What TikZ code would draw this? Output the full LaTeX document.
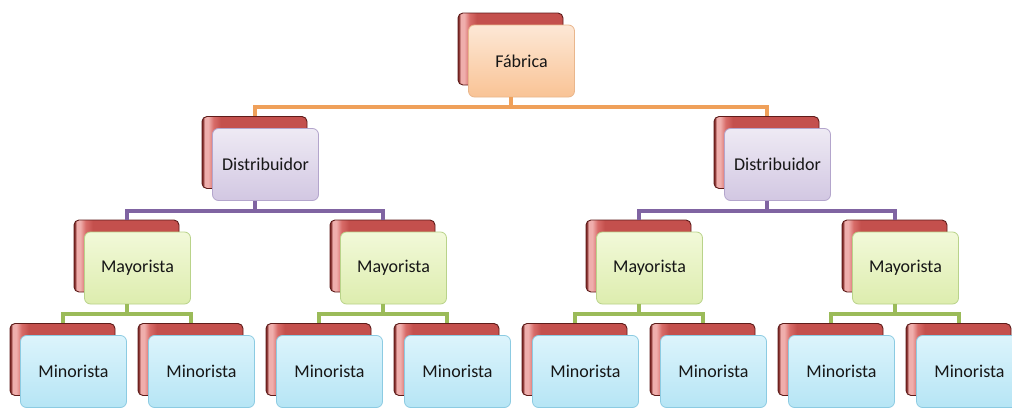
\documentclass[tikz,border=0pt]{standalone}
\usepackage{fontspec}
\setmainfont{Carlito}

% palette
\definecolor{redEdge}{HTML}{7A2422}
\definecolor{redLight}{HTML}{EFAEAC}
\definecolor{redMid}{HTML}{D86C69}
\definecolor{redBase}{HTML}{C4504D}
\definecolor{redOut}{HTML}{5E1C1A}
\definecolor{lnOrange}{HTML}{EFA05A}
\definecolor{lnPurple}{HTML}{8064A2}
\definecolor{lnGreen}{HTML}{9BBB59}
\definecolor{txt}{HTML}{161616}
\definecolor{peachTop}{HTML}{FDE8D6}
\definecolor{peachBot}{HTML}{F9C395}
\definecolor{peachLine}{HTML}{E9B68C}
\definecolor{lavTop}{HTML}{EEEAF4}
\definecolor{lavBot}{HTML}{D2C7E2}
\definecolor{lavLine}{HTML}{B3A5CC}
\definecolor{limeTop}{HTML}{F2F9D9}
\definecolor{limeBot}{HTML}{DDEDAE}
\definecolor{limeLine}{HTML}{B9D38A}
\definecolor{cyanTop}{HTML}{DCF4FC}
\definecolor{cyanBot}{HTML}{B6E5F5}
\definecolor{cyanLine}{HTML}{8CCBE2}

% glossy red plate: dark rim, pale stripe down the left, flat red body
% (TikZ maps a path onto the 25bp..75bp band of the shading)
\pgfdeclarehorizontalshading{redback}{100bp}{color(0bp)=(redEdge); color(25.3bp)=(redEdge); color(26.3bp)=(redLight); color(28bp)=(redLight); color(30.5bp)=(redMid); color(34bp)=(redBase); color(100bp)=(redBase)}

\tikzset{
  backbox/.style={rounded corners=5pt, draw=redOut, line width=0.9pt, shading=redback,
    minimum width=105pt, minimum height=72pt, inner sep=0pt},
  frontbox/.style={rounded corners=6pt, line width=0.8pt, minimum width=106pt,
    minimum height=72pt, inner sep=0pt, text=txt, font=\fontsize{18}{20}\selectfont},
  fabbox/.style={frontbox, draw=peachLine, top color=peachTop, bottom color=peachBot},
  disbox/.style={frontbox, draw=lavLine, top color=lavTop, bottom color=lavBot},
  maybox/.style={frontbox, draw=limeLine, top color=limeTop, bottom color=limeBot},
  minbox/.style={frontbox, draw=cyanLine, top color=cyanTop, bottom color=cyanBot},
  bar/.style={line width=4pt, #1},
}

% a red back plate with the labelled card laid over it
\newcommand{\cardpair}[4]{%
  \node[backbox] (#1B) at (#2) {};
  \node[#3] (#1) at ([shift={(11,12)}]#1B.center) {#4};
}

\begin{document}
\begin{tikzpicture}[x=1pt,y=-1pt]
\useasboundingbox (0,0) rectangle (1012,407);
\fill[white] (0,0) rectangle (1012,407);

% top level
\cardpair{fab}{510.5,49}{fabbox}{Fábrica}

% distributors
\cardpair{da}{254.5,152.5}{disbox}{Distribuidor}
\cardpair{db}{766.5,152.5}{disbox}{Distribuidor}

% wholesalers
\cardpair{ma}{126.5,256}{maybox}{Mayorista}
\cardpair{mb}{382.5,256}{maybox}{Mayorista}
\cardpair{mc}{638.5,256}{maybox}{Mayorista}
\cardpair{md}{894.5,256}{maybox}{Mayorista}

% retailers
\cardpair{na}{62.5,359.5}{minbox}{Minorista}
\cardpair{nb}{190.5,359.5}{minbox}{Minorista}
\cardpair{nc}{318.5,359.5}{minbox}{Minorista}
\cardpair{nd}{446.5,359.5}{minbox}{Minorista}
\cardpair{ne}{574.5,359.5}{minbox}{Minorista}
\cardpair{nf}{702.5,359.5}{minbox}{Minorista}
\cardpair{ng}{830.5,359.5}{minbox}{Minorista}
\cardpair{nh}{958.5,359.5}{minbox}{Minorista}

% connectors
\foreach \c in {da,db}
  \draw[bar=lnOrange] (fabB |- fab.south) -- ++(0,10) -| (\c B.north);
\foreach \p/\c in {da/ma,da/mb,db/mc,db/md}
  \draw[bar=lnPurple] (\p B |- \p.south) -- ++(0,10) -| (\c B.north);
\foreach \p/\c in {ma/na,ma/nb,mb/nc,mb/nd,mc/ne,mc/nf,md/ng,md/nh}
  \draw[bar=lnGreen] (\p B |- \p.south) -- ++(0,10) -| (\c B.north);
\end{tikzpicture}
\end{document}
